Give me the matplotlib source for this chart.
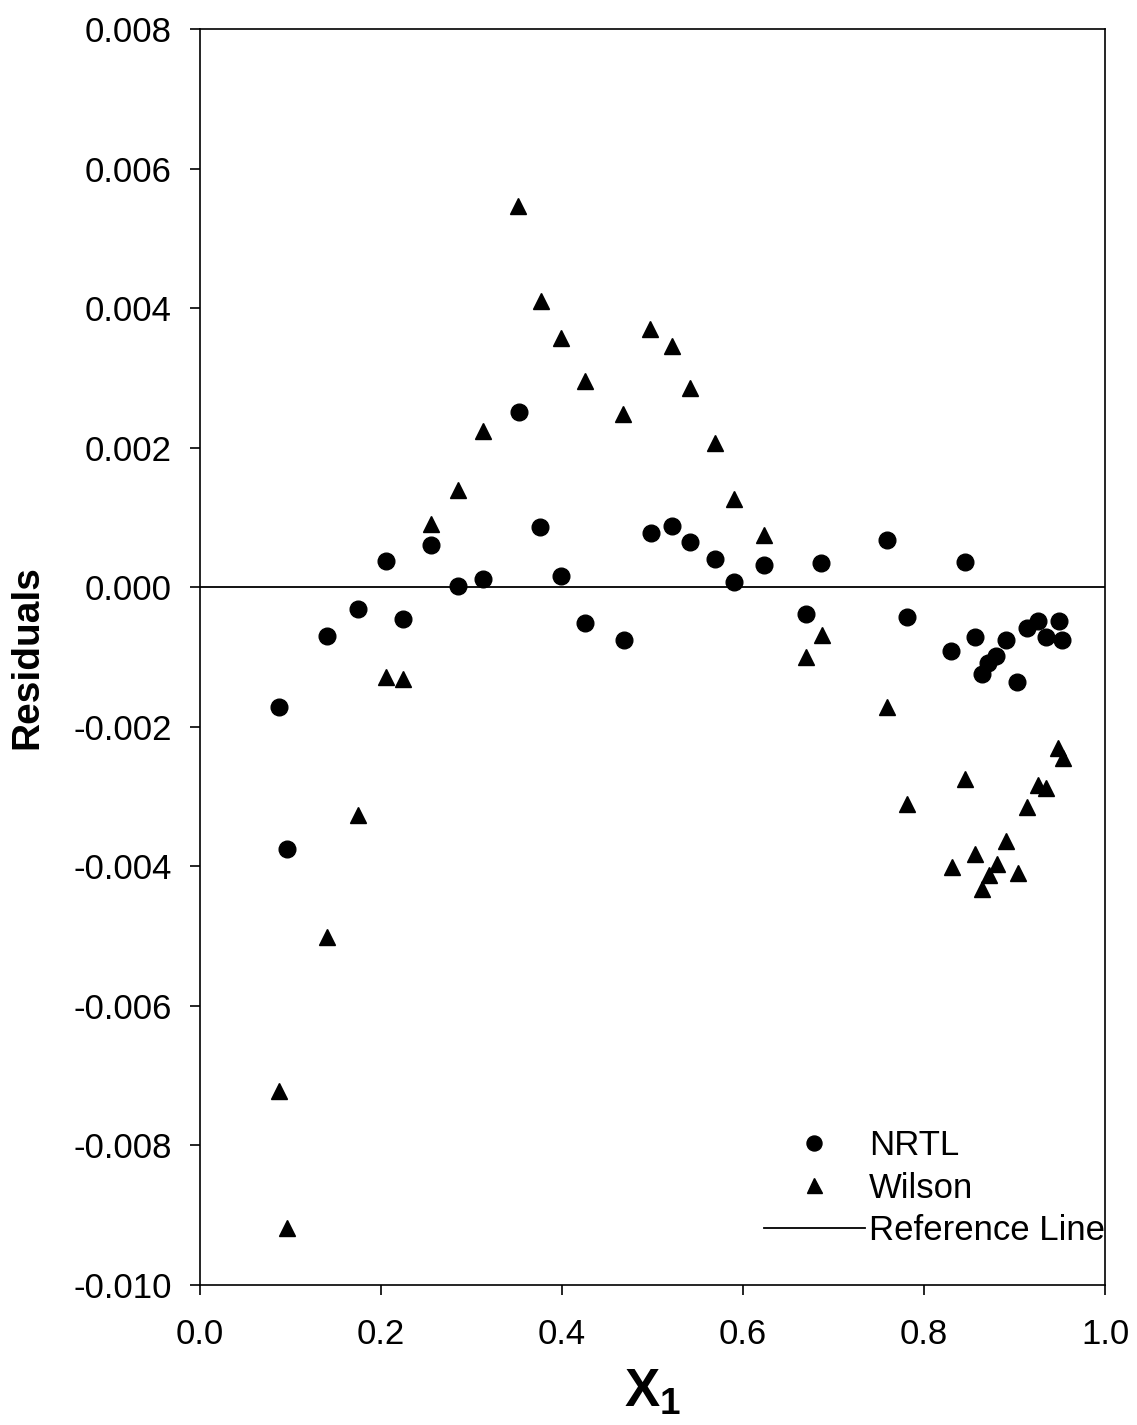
import matplotlib
matplotlib.use("Agg")
import matplotlib.pyplot as plt
from matplotlib.ticker import FuncFormatter

plt.rcParams['font.family'] = ['Liberation Sans', 'DejaVu Sans']
plt.rcParams['mathtext.fontset'] = 'custom'
plt.rcParams['mathtext.rm'] = 'Liberation Sans'
plt.rcParams['mathtext.bf'] = 'Liberation Sans:bold'

# NRTL residuals
nrtl_x = [0.0873, 0.096, 0.140, 0.175, 0.2055, 0.2247, 0.2547, 0.2847, 0.313, 0.352,
          0.376, 0.399, 0.4258, 0.469, 0.498, 0.5215, 0.5414, 0.5687, 0.590, 0.623,
          0.670, 0.6866, 0.7587, 0.7816, 0.830, 0.8457, 0.8564, 0.8637, 0.871, 0.880,
          0.891, 0.903, 0.9134, 0.9263, 0.9348, 0.9488, 0.9528]
nrtl_y = [-0.00172, -0.00375, -0.00070, -0.00031, 0.00037, -0.00045, 0.00061, 0.000024, 0.00012, 0.00251,
          0.00086, 0.00016, -0.00051, -0.00076, 0.00078, 0.00088, 0.000645, 0.00040, 0.00007, 0.000315,
          -0.00039, 0.00034, 0.00067, -0.00042, -0.00092, 0.00036, -0.00071, -0.00125, -0.00109, -0.00099,
          -0.00076, -0.00136, -0.00058, -0.00049, -0.00071, -0.00049, -0.00076]

# Wilson residuals
wilson_x = [0.0873, 0.096, 0.140, 0.175, 0.2055, 0.2247, 0.2547, 0.2847, 0.3123, 0.3517,
            0.3768, 0.399, 0.425, 0.4678, 0.4976, 0.5212, 0.5414, 0.5687, 0.590, 0.6236,
            0.670, 0.6877, 0.759, 0.7816, 0.8305, 0.8457, 0.8567, 0.8644, 0.8722, 0.881,
            0.891, 0.9035, 0.9138, 0.9256, 0.9348, 0.948, 0.9533]
wilson_y = [-0.00722, -0.00919, -0.00501, -0.00327, -0.00128, -0.00132, 0.00091, 0.00139, 0.00224, 0.00546,
            0.00410, 0.00357, 0.00295, 0.00248, 0.00370, 0.00345, 0.00286, 0.00207, 0.00127, 0.00075,
            -0.00100, -0.00068, -0.00172, -0.00311, -0.00401, -0.00275, -0.00383, -0.00432, -0.00413, -0.00397,
            -0.00364, -0.00409, -0.00315, -0.00283, -0.00288, -0.00231, -0.00245]

x_ticks = [0.0, 0.2, 0.4, 0.6, 0.8, 1.0]
y_ticks = [-0.010, -0.008, -0.006, -0.004, -0.002, 0.000, 0.002, 0.004, 0.006, 0.008]

fig = plt.figure(figsize=(11.37, 14.25), dpi=100)
ax = fig.add_axes([200/1137, 1 - 1285/1425, 905/1137, (1285 - 29)/1425])

ax.plot(nrtl_x, nrtl_y, linestyle='none', marker='o', markersize=12,
        color='black', label='NRTL', zorder=3)
ax.plot(wilson_x, wilson_y, linestyle='none', marker='^', markersize=12,
        color='black', label='Wilson', zorder=3)
ax.axhline(0.0, color='black', linewidth=1.3, label='Reference Line', zorder=2)

ax.set_xlim(0.0, 1.0)
ax.set_ylim(-0.010, 0.008)
ax.set_xticks(x_ticks)
ax.set_yticks(y_ticks)
ax.xaxis.set_major_formatter(FuncFormatter(lambda v, p: f"{v:.1f}"))
ax.yaxis.set_major_formatter(FuncFormatter(lambda v, p: f"{v:.3f}" if abs(v) > 1e-12 else "0.000"))

ax.tick_params(axis='both', which='major', direction='out', length=7.5, width=1.2,
               labelsize=25, top=False, right=False)
ax.tick_params(axis='x', pad=16)
ax.tick_params(axis='y', pad=13)
for s in ax.spines.values():
    s.set_linewidth(1.2)

ax.set_ylabel('Residuals', fontsize=28, fontweight='bold', labelpad=20)
ax.set_xlabel(r'$\mathbf{X_1}$', fontsize=38, labelpad=12)

leg = ax.legend(loc='lower right', bbox_to_anchor=(1.0, 0.03), frameon=False,
                fontsize=25, handlelength=2.9, handletextpad=0.12, labelspacing=0.28,
                borderpad=0.0, borderaxespad=0.0, markerscale=0.9)

fig.savefig('out.png', dpi=100)
